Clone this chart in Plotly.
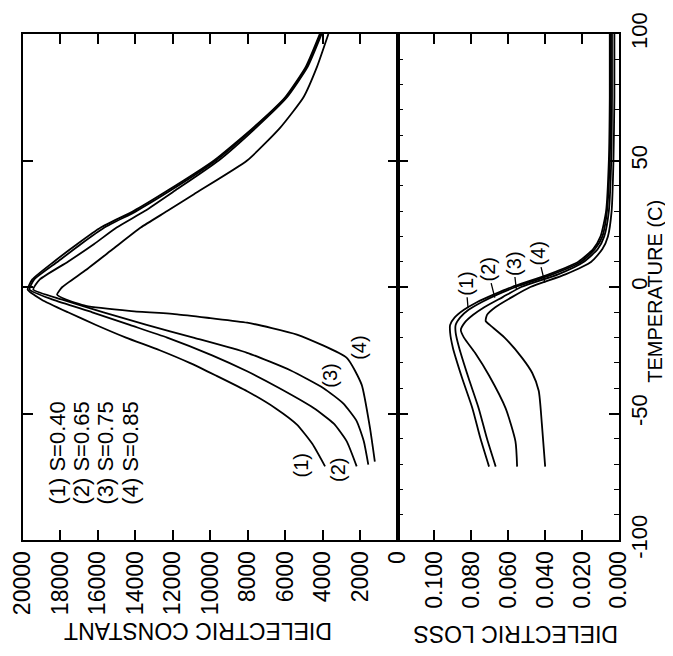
import plotly.graph_objects as go

# ---------------- data ----------------
curve_names = ["(1)", "(2)", "(3)", "(4)"]
legend_lines = ["(1) S=0.40", "(2) S=0.65", "(3) S=0.75", "(4) S=0.85"]

# Dielectric constant vs temperature
t_const_1 = [-70.9, -62, -54.4, -48, -41.2, -35, -30, -25, -20, -15, -10, -5, -1, 3, 10, 17, 23.5, 30, 38, 50, 63, 75, 87, 100]
e_const_1 = [3870, 4550, 5370, 6500, 8030, 9700, 11100, 12700, 14500, 16100, 17600, 19000, 19750, 19500, 18350, 17100, 15850, 14100, 12300, 9800, 7700, 6000, 4900, 4150]

t_const_2 = [-70.9, -61, -54, -47.8, -40, -33.3, -27, -20, -15, -10, -5, -1, 3, 10, 17, 23.5, 30, 38, 50, 63, 75, 87, 100]
e_const_2 = [2180, 2710, 3400, 4480, 6300, 8030, 9900, 12300, 14300, 16300, 18400, 19650, 19400, 18150, 16900, 15650, 13950, 12150, 9700, 7650, 5950, 4850, 4100]

t_const_3 = [-70.2, -61, -53, -46, -40, -33, -26, -20, -15, -10, -5, -1, 3, 10, 17, 23.5, 30, 38, 50, 63, 75, 87, 100]
e_const_3 = [1560, 1800, 2180, 2900, 3950, 5700, 8030, 10900, 13400, 15700, 17900, 19450, 19100, 17600, 16200, 15000, 13500, 11900, 9550, 7550, 5900, 4800, 4050]

t_const_4 = [-69, -55.7, -38.6, -28, -18.8, -14.1, -12.3, -10.8, -9.5, -7.5, -5, -3, 0, 6.3, 15, 23.5, 30, 36.7, 50, 63, 75, 87, 100]
e_const_4 = [1210, 1470, 1915, 2710, 5370, 8030, 10000, 11760, 14210, 16640, 17700, 18180, 17900, 16720, 15200, 13710, 12300, 10870, 8030, 6260, 5020, 4300, 3690]

# Dielectric loss vs temperature
t_loss_1 = [-71, -60, -48, -36, -24, -18, -15, -12, -9, -6, -3, 0, 5, 10, 15, 20, 30, 50, 75, 100]
l_loss_1 = [0.0704, 0.0750, 0.0794, 0.0850, 0.0900, 0.0915, 0.0915, 0.0890, 0.0840, 0.0770, 0.0680, 0.0580, 0.0380, 0.0220, 0.0140, 0.0100, 0.0070, 0.0055, 0.0050, 0.0050]

t_loss_2 = [-71, -60, -48, -36, -24, -18, -15, -12, -9, -6, -3, 0, 5, 10, 15, 20, 30, 50, 75, 100]
l_loss_2 = [0.0668, 0.0715, 0.0760, 0.0815, 0.0866, 0.0885, 0.0885, 0.0860, 0.0815, 0.0745, 0.0660, 0.0560, 0.0360, 0.0205, 0.0130, 0.0090, 0.0065, 0.0050, 0.0045, 0.0045]

t_loss_3 = [-71, -61, -48, -35, -26, -20, -17, -14, -11, -8, -4, 0, 5, 10, 15, 20, 30, 50, 75, 100]
l_loss_3 = [0.0552, 0.0561, 0.0614, 0.0704, 0.0780, 0.0840, 0.0857, 0.0835, 0.0790, 0.0730, 0.0630, 0.0530, 0.0330, 0.0190, 0.0115, 0.0080, 0.0055, 0.0042, 0.0038, 0.0038]

t_loss_4 = [-71, -54, -41, -34, -28, -20, -15, -13.5, -11, -8, -4, 0, 5, 10, 15, 20, 30, 50, 75, 100]
l_loss_4 = [0.0400, 0.0418, 0.0435, 0.0470, 0.0525, 0.0620, 0.0700, 0.0722, 0.0715, 0.0670, 0.0580, 0.0480, 0.0290, 0.0150, 0.0090, 0.0060, 0.0040, 0.0030, 0.0025, 0.0025]

const_ticks = list(range(0, 20001, 2000))
loss_ticks = [0.0, 0.02, 0.04, 0.06, 0.08, 0.10]
temp_ticks = [-100, -50, 0, 50, 100]

# ---------------- figure ----------------
FONT = "Liberation Sans, Arial, sans-serif"
LW = 1.8
fig = go.Figure()

const_sets = [(t_const_1, e_const_1), (t_const_2, e_const_2), (t_const_3, e_const_3), (t_const_4, e_const_4)]
loss_sets = [(t_loss_1, l_loss_1), (t_loss_2, l_loss_2), (t_loss_3, l_loss_3), (t_loss_4, l_loss_4)]

for name, (t, e) in zip(curve_names, const_sets):
    fig.add_trace(go.Scatter(x=e, y=t, mode="lines", name=name, xaxis="x", yaxis="y",
                             line=dict(color="black", width=LW, shape="spline", smoothing=0.5),
                             showlegend=False, hoverinfo="skip"))
for name, (t, l) in zip(curve_names, loss_sets):
    fig.add_trace(go.Scatter(x=l, y=t, mode="lines", name=name, xaxis="x2", yaxis="y2",
                             line=dict(color="black", width=LW, shape="spline", smoothing=0.6),
                             showlegend=False, hoverinfo="skip"))

split = (389.5 - 15) / (611 - 15)
axis_common = dict(showline=True, linecolor="black", linewidth=2, mirror="allticks",
                   ticks="inside", ticklen=10, tickwidth=1.5, tickcolor="black",
                   showgrid=False, zeroline=False, automargin=False,
                   tickfont=dict(family=FONT, size=23, color="black"))

fig.update_layout(
    width=673, height=656,
    margin=dict(l=15, r=62, t=26, b=124, autoexpand=False),
    paper_bgcolor="white", plot_bgcolor="white",
    font=dict(family=FONT, color="black"),
    xaxis=dict(domain=[0, split], range=[20000, 0], tickvals=const_ticks,
               ticktext=[str(v) for v in const_ticks], tickangle=-90,
               anchor="y", **axis_common),
    xaxis2=dict(domain=[split, 1], range=[0.12, 0], tickvals=loss_ticks,
                ticktext=["%.3f" % v for v in loss_ticks], tickangle=-90,
                anchor="y2", **axis_common),
    yaxis=dict(range=[-100, 100], tickvals=temp_ticks, showticklabels=False,
               anchor="x", **axis_common),
    yaxis2=dict(range=[-100, 100], tickvals=temp_ticks, ticktext=[str(v) for v in temp_ticks],
                tickangle=-90, side="right", anchor="x2", matches="y",
                ticklabelstandoff=0,
                minor=dict(dtick=10, ticks="inside", ticklen=5, tickcolor="black", tickwidth=1.2),
                **axis_common),
)
fig.update_yaxes(tickfont=dict(family=FONT, size=22, color="black"), selector=dict(side="right"))

ann = []
# axis titles (upside down / rotated like the reference)
ann.append(dict(text="DIELECTRIC CONSTANT", xref="paper", yref="paper", x=0.2936, y=-0.180,
                xanchor="center", yanchor="middle",
                showarrow=False, textangle=180, font=dict(family=FONT, size=23)))
ann.append(dict(text="DIELECTRIC LOSS", xref="paper", yref="paper", x=0.8255, y=-0.186,
                xanchor="center", yanchor="middle",
                showarrow=False, textangle=180, font=dict(family=FONT, size=23)))
ann.append(dict(text="TEMPERATURE (C)", xref="paper", yref="paper", x=1.060, y=0.492,
                xanchor="center", yanchor="middle",
                showarrow=False, textangle=-90, font=dict(family=FONT, size=20)))

# legend text block
legend_x = [18150, 16870, 15590, 14250]
for txt, xv in zip(legend_lines, legend_x):
    ann.append(dict(text=txt, xref="x", yref="y", x=xv, y=-65.6, showarrow=False,
                    xanchor="center", yanchor="middle",
                    textangle=-90, font=dict(family=FONT, size=22)))

# curve labels on the dielectric constant panel
const_lab_pos = [(5150, -70.5), (3150, -72.5), (3650, -35.0), (2050, -24.0)]
for name, (xv, yv) in zip(curve_names, const_lab_pos):
    ann.append(dict(text=name, xref="x", yref="y", x=xv, y=yv, showarrow=False,
                    xanchor="center", yanchor="middle",
                    textangle=-90, font=dict(family=FONT, size=20)))

# curve labels with leader lines on the loss panel
loss_lab = [(0.0818, -8.2, -2, -24), (0.0673, -4.2, -7, -28), (0.0556, -1.0, -3, -26), (0.0402, 1.7, -7, -29)]
for name, (xv, yv, axp, ayp) in zip(curve_names, loss_lab):
    ann.append(dict(text=name, xref="x2", yref="y2", x=xv, y=yv, showarrow=True,
                    arrowhead=0, arrowwidth=1.3, arrowcolor="black", ax=axp, ay=ayp,
                    textangle=-90, font=dict(family=FONT, size=20)))

fig.update_layout(annotations=ann)
fig.write_html("out.html")
